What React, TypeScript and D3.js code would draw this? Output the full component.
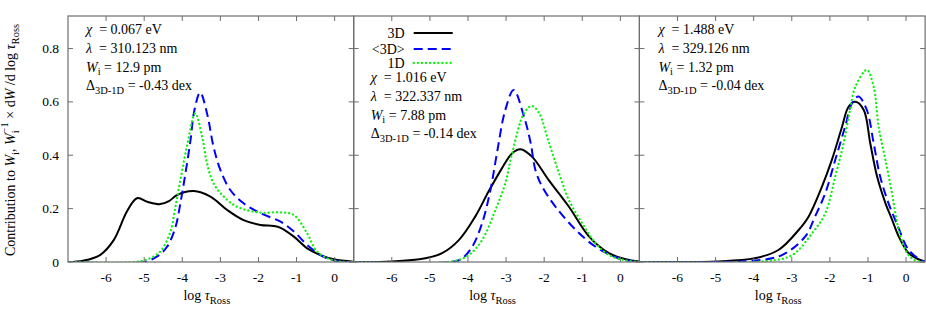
import React, { useEffect, useRef } from 'react';
import * as d3 from 'd3';

// log tau_Ross ticks and contribution ticks
const xTicks = [-6, -5, -4, -3, -2, -1, 0];
const yTicks = [0, 0.2, 0.4, 0.6, 0.8];

// panel 1 (chi = 0.067 eV)
const p1Black = [[-7,0],[-6.6,0.005],[-6.16,0.026],[-5.8,0.082],[-5.45,0.19],[-5.19,0.239],[-4.9,0.225],[-4.58,0.217],[-4.35,0.228],[-4.14,0.251],[-3.7,0.266],[-3.26,0.245],[-2.82,0.195],[-2.39,0.157],[-1.95,0.139],[-1.6,0.135],[-1.42,0.128],[-1.07,0.095],[-0.72,0.051],[-0.37,0.026],[-0.02,0.01],[0.5,0.001]];
const p1Blue = [[-7,0],[-5.0,0],[-4.67,0.02],[-4.4,0.057],[-4.18,0.13],[-4.05,0.22],[-3.92,0.33],[-3.79,0.45],[-3.68,0.57],[-3.53,0.635],[-3.35,0.557],[-3.18,0.432],[-3.0,0.345],[-2.74,0.27],[-2.39,0.22],[-1.95,0.183],[-1.42,0.151],[-1.07,0.114],[-0.72,0.064],[-0.37,0.026],[-0.02,0.006],[0.5,0]];
const p1Green = [[-7,0],[-5.26,0],[-4.92,0.01],[-4.58,0.039],[-4.32,0.11],[-4.18,0.207],[-4.05,0.307],[-3.88,0.432],[-3.66,0.557],[-3.48,0.47],[-3.35,0.37],[-3.18,0.295],[-2.91,0.245],[-2.56,0.207],[-1.95,0.185],[-1.42,0.186],[-1.07,0.176],[-0.72,0.107],[-0.46,0.039],[-0.02,0.005],[0.5,0]];

// panel 2 (chi = 1.016 eV)
const p2Black = [[-7,0],[-6.0,0.002],[-5.12,0.014],[-4.68,0.033],[-4.24,0.082],[-3.81,0.17],[-3.46,0.264],[-3.11,0.351],[-2.84,0.408],[-2.62,0.423],[-2.32,0.395],[-1.88,0.307],[-1.35,0.207],[-0.82,0.095],[-0.3,0.033],[0.14,0.01],[0.5,0.002]];
const p2Blue = [[-7,0],[-4.42,0],[-4.16,0.013],[-3.89,0.057],[-3.63,0.145],[-3.41,0.27],[-3.24,0.408],[-3.02,0.57],[-2.8,0.645],[-2.53,0.545],[-2.36,0.45],[-2.23,0.345],[-2.05,0.282],[-1.7,0.207],[-1.17,0.12],[-0.65,0.057],[-0.12,0.018],[0.3,0.003],[0.5,0]];
const p2Green = [[-7,0],[-4.42,0.002],[-3.98,0.026],[-3.63,0.082],[-3.28,0.195],[-3.02,0.295],[-2.84,0.408],[-2.53,0.557],[-2.33,0.585],[-2.14,0.56],[-1.88,0.45],[-1.61,0.333],[-1.35,0.232],[-1.0,0.145],[-0.65,0.07],[-0.3,0.026],[0.14,0.006],[0.5,0]];

// panel 3 (chi = 1.488 eV)
const p3Black = [[-7,0],[-5.0,0.002],[-3.97,0.014],[-3.35,0.045],[-2.82,0.12],[-2.56,0.17],[-2.21,0.282],[-1.95,0.382],[-1.68,0.507],[-1.51,0.582],[-1.33,0.601],[-1.11,0.57],[-0.94,0.445],[-0.76,0.32],[-0.54,0.22],[-0.37,0.16],[-0.19,0.095],[0.07,0.033],[0.42,0.005],[0.5,0.003]];
const p3Blue = [[-7,0],[-4.0,0.005],[-3.26,0.026],[-2.65,0.095],[-2.39,0.17],[-2.12,0.258],[-1.86,0.382],[-1.6,0.507],[-1.42,0.595],[-1.25,0.62],[-1.03,0.57],[-0.85,0.445],[-0.68,0.32],[-0.46,0.22],[-0.32,0.17],[-0.19,0.125],[0.07,0.045],[0.42,0.005],[0.5,0.003]];
const p3Green = [[-7,0],[-3.7,0.003],[-2.99,0.026],[-2.47,0.107],[-2.12,0.183],[-1.86,0.32],[-1.64,0.445],[-1.47,0.57],[-1.33,0.657],[-1.03,0.72],[-0.85,0.657],[-0.72,0.507],[-0.54,0.382],[-0.37,0.258],[-0.28,0.183],[-0.19,0.12],[0.03,0.033],[0.25,0.005],[0.5,0]];

const chiLabels = ['0.067', '1.016', '1.488'];
const lambdaLabels = ['310.123', '322.337', '329.126'];
const wLabels = ['12.9', '7.88', '1.32'];
const deltaLabels = ['-0.43', '-0.14', '-0.04'];
const legendLabels = ['3D', '<3D>', '1D'];

const panels = [
  { black: p1Black, blue: p1Blue, green: p1Green },
  { black: p2Black, blue: p2Blue, green: p2Green },
  { black: p3Black, blue: p3Blue, green: p3Green },
];

const W = 926, H = 309;
const left = 68, top = 16, bottom = 262, pw = 285.7;
const frameColor = '#6e6e6e';
const font = '"Liberation Serif", "DejaVu Serif", serif';

const styles = [
  { key: 'black', color: '#000000', dash: null, width: 2 },
  { key: 'blue', color: '#0000ff', dash: '9,5', width: 2 },
  { key: 'green', color: '#11ee11', dash: '0.1,4', width: 2.3 },
];

function App() {
  const ref = useRef<SVGSVGElement>(null);

  useEffect(() => {
    const svg = d3.select(ref.current);
    svg.selectAll('*').remove();
    const y = d3.scaleLinear().domain([0, 0.922]).range([bottom, top]);

    panels.forEach((p, i) => {
      const x0 = left + i * pw;
      const x = d3.scaleLinear().domain([-7, 0.5]).range([x0, x0 + pw]);
      const g = svg.append('g');

      g.append('clipPath').attr('id', `clip${i}`).append('rect')
        .attr('x', x0).attr('y', top).attr('width', pw).attr('height', bottom - top);

      const line = d3.line<number[]>().x(d => x(d[0])).y(d => y(Math.max(0, d[1])))
        .curve(d3.curveCatmullRom.alpha(0.5));
      const curves = g.append('g').attr('clip-path', `url(#clip${i})`);
      styles.forEach(s => {
        curves.append('path')
          .attr('d', line((p as any)[s.key]))
          .attr('fill', 'none')
          .attr('stroke', s.color)
          .attr('stroke-width', s.width)
          .attr('stroke-dasharray', s.dash)
          .attr('stroke-linecap', s.key === 'green' ? 'round' : 'butt');
      });

      // ticks, inward on all four sides
      xTicks.forEach(t => {
        g.append('line').attr('x1', x(t)).attr('x2', x(t)).attr('y1', bottom).attr('y2', bottom - 5).attr('stroke', frameColor);
        g.append('line').attr('x1', x(t)).attr('x2', x(t)).attr('y1', top).attr('y2', top + 5).attr('stroke', frameColor);
        g.append('text').attr('x', x(t)).attr('y', 282).attr('text-anchor', 'middle')
          .style('font-family', font).style('font-size', '13.5px').text(t);
      });
      yTicks.forEach(t => {
        g.append('line').attr('x1', x0).attr('x2', x0 + 5).attr('y1', y(t)).attr('y2', y(t)).attr('stroke', frameColor);
        g.append('line').attr('x1', x0 + pw).attr('x2', x0 + pw - 5).attr('y1', y(t)).attr('y2', y(t)).attr('stroke', frameColor);
        if (i === 0) {
          g.append('text').attr('x', x0 - 9).attr('y', y(t) + 4.5).attr('text-anchor', 'end')
            .style('font-family', font).style('font-size', '13.5px').text(t === 0 ? '0' : d3.format('.1f')(t));
        }
      });
      g.append('rect').attr('x', x0).attr('y', top).attr('width', pw).attr('height', bottom - top)
        .attr('fill', 'none').attr('stroke', frameColor).attr('stroke-width', 1.2);

      // x label
      const xl = g.append('text').attr('x', x0 + pw / 2 - 4).attr('y', 300).attr('text-anchor', 'middle')
        .style('font-family', font).style('font-size', '14px');
      xl.append('tspan').text('log ');
      xl.append('tspan').style('font-style', 'italic').text('τ');
      xl.append('tspan').attr('dy', 4).style('font-size', '10.5px').text('Ross');

      // annotation block
      const tx = x0 + [18, 17, 19][i];
      const ty0 = [34, 82, 34][i];
      const step = 18.8;
      const mk = (k: number) => g.append('text').attr('x', tx).attr('y', ty0 + k * step)
        .style('font-family', font).style('font-size', '14px');
      const t1 = mk(0);
      t1.append('tspan').style('font-style', 'italic').text('χ');
      t1.append('tspan').text(`  = ${chiLabels[i]} eV`).attr('xml:space', 'preserve');
      const t2 = mk(1);
      t2.append('tspan').style('font-style', 'italic').text('λ');
      t2.append('tspan').text(`  = ${lambdaLabels[i]} nm`).attr('xml:space', 'preserve');
      const t3 = mk(2);
      t3.append('tspan').style('font-style', 'italic').text('W');
      t3.append('tspan').attr('dy', 3.5).style('font-size', '10.5px').text('i');
      t3.append('tspan').attr('dy', -3.5).text(` = ${wLabels[i]} pm`);
      const t4 = mk(3);
      t4.append('tspan').text('Δ');
      t4.append('tspan').attr('dy', 3.5).style('font-size', '10.5px').text('3D-1D');
      t4.append('tspan').attr('dy', -3.5).text(` = ${deltaLabels[i]} dex`);

      // legend in the middle panel
      if (i === 1) {
        const ly = [33, 49, 63];
        legendLabels.forEach((lab, k) => {
          g.append('text').attr('x', x0 + 51).attr('y', ly[k] + 5).attr('text-anchor', 'end')
            .style('font-family', font).style('font-size', '14px').text(lab);
          const s = styles[k];
          g.append('line').attr('x1', x0 + 60).attr('x2', x0 + 99).attr('y1', ly[k]).attr('y2', ly[k])
            .attr('stroke', s.color).attr('stroke-width', s.width)
            .attr('stroke-dasharray', s.dash).attr('stroke-linecap', s.key === 'green' ? 'round' : 'butt');
        });
      }
    });

    // y label
    const yl = svg.append('text').attr('transform', `translate(15,140) rotate(-90)`).attr('text-anchor', 'middle')
      .style('font-family', font).style('font-size', '14px');
    yl.append('tspan').text('Contribution to ');
    yl.append('tspan').style('font-style', 'italic').text('W');
    yl.append('tspan').attr('dy', 3.5).style('font-size', '10.5px').text('i');
    yl.append('tspan').attr('dy', -3.5).text(', ');
    yl.append('tspan').style('font-style', 'italic').text('W');
    yl.append('tspan').attr('dy', 3.5).style('font-size', '10.5px').text('i');
    yl.append('tspan').attr('dy', -11).attr('dx', -3).style('font-size', '10.5px').text('−1');
    yl.append('tspan').attr('dy', 7.5).text(' × d');
    yl.append('tspan').style('font-style', 'italic').text('W');
    yl.append('tspan').text(' /d log ');
    yl.append('tspan').style('font-style', 'italic').text('τ');
    yl.append('tspan').attr('dy', 3.5).style('font-size', '10.5px').text('Ross');
  }, []);

  return (
    <svg ref={ref} width={W} height={H}
      style={{ position: 'absolute', left: 0, top: 0, background: '#fff' }} />
  );
}

export default App;
